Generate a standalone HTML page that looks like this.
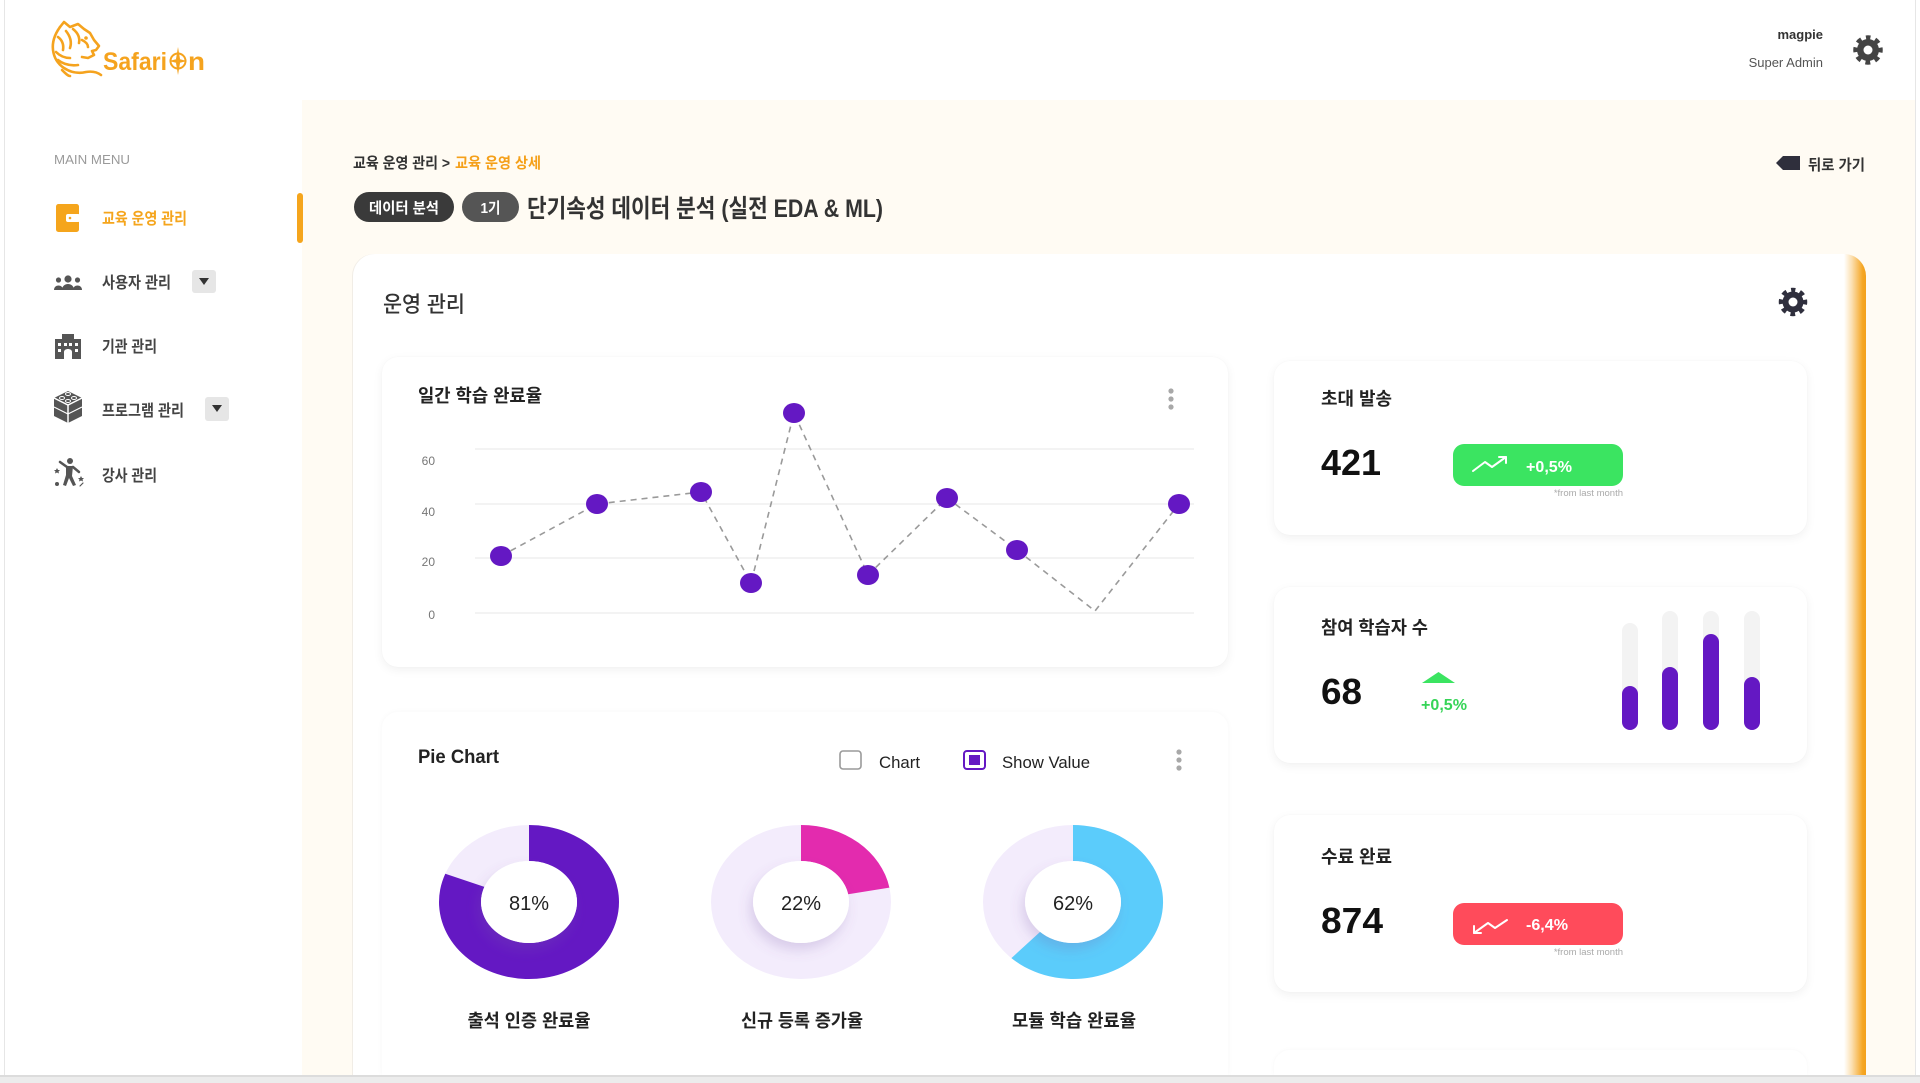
<!DOCTYPE html>
<html lang="ko">
<head>
<meta charset="utf-8">
<style>
  html,body{margin:0;padding:0;width:1920px;height:1083px;overflow:hidden;background:#ffffff;}
  #root{position:relative;width:1920px;height:1083px;overflow:hidden;background:#ffffff;
       font-family:"Liberation Sans","Noto Sans CJK KR",sans-serif;}
  .abs{position:absolute;}
  #bottomstrip{left:0;top:1075px;width:1920px;height:8px;background:#ececec;border-top:2px solid #dcdcdc;box-sizing:border-box;}
  #frameL{left:4px;top:0;width:1px;height:1075px;background:#e6e6e6;}
  #frameR{left:1915px;top:0;width:1px;height:1075px;background:#e6e6e6;}
  #content{left:302px;top:100px;width:1613px;height:975px;background:#FFFBF3;}
  #maincard{left:353px;top:254px;width:1513px;height:821px;background:#fff;border-radius:22px 22px 0 0;overflow:hidden;
            box-shadow:-1px 0 0 #f1ede6;}
  #orangeedge{right:0;top:0;width:22px;height:821px;
              background:linear-gradient(to right,rgba(245,166,35,0) 0%,rgba(245,166,35,0.35) 35%,#F5A623 85%,#F3A01C 100%);}
  .card{background:#fff;border-radius:16px;box-shadow:0 3px 10px rgba(0,0,0,0.06),0 0 1px rgba(0,0,0,0.05);}
  #overlay{left:0;top:0;}
</style>
</head>
<body>
<div id="root">
<div id="frameL" class="abs"></div>
<div id="frameR" class="abs"></div>
<div id="content" class="abs"></div>
<div id="maincard" class="abs"><div id="orangeedge" class="abs"></div></div>

<div class="abs card" style="left:382px;top:357px;width:846px;height:310px;"></div>
<div class="abs card" style="left:382px;top:712px;width:846px;height:363px;border-radius:16px 16px 0 0;box-shadow:0 0 6px rgba(0,0,0,0.035);"></div>
<div class="abs card" style="left:1274px;top:361px;width:533px;height:174px;"></div>
<div class="abs card" style="left:1274px;top:587px;width:533px;height:176px;"></div>
<div class="abs card" style="left:1274px;top:815px;width:533px;height:177px;"></div>
<div class="abs card" style="left:1274px;top:1050px;width:533px;height:25px;border-radius:16px 16px 0 0;box-shadow:0 0 5px rgba(0,0,0,0.035);"></div>
<div id="bottomstrip" class="abs"></div>

<svg id="overlay" class="abs" width="1920" height="1083" viewBox="0 0 1920 1083" xmlns="http://www.w3.org/2000/svg"
     font-family="Liberation Sans, Noto Sans CJK KR, sans-serif">
  <defs>
    <filter id="ds" x="-50%" y="-50%" width="200%" height="200%">
      <feDropShadow dx="-3" dy="7" stdDeviation="6" flood-color="#7a5aa8" flood-opacity="0.22"/>
    </filter>
  </defs>

  <!-- ===== Logo ===== -->
  <g fill="none" stroke="#F5A31E" stroke-width="2.6" stroke-linecap="round" stroke-linejoin="round">
    <path d="M60 27 L64 22 L70 27 L78 24 L84 29 L90 33 L94 40 L99 46 L96 50 L92 51 L94 55 L88 58 L82 57"/>
    <path d="M60 27 C55 34 52 42 53 50 C54 58 58 64 64 68 C70 72 78 74 86 72 C92 71 97 72 101 75"/>
    <path d="M58 37 C62 40 64 44 63 50"/>
    <path d="M66 31 C70 36 72 42 70 48"/>
    <path d="M73 29 C78 33 80 38 79 43"/>
    <path d="M56 52 C60 56 64 58 70 58"/>
    <path d="M58 60 C63 64 70 66 78 65"/>
    <path d="M82 40 C86 42 88 44 88 47"/>
    <path d="M62 70 C66 74 68 76 70 76"/>
  </g>
  <g fill="#F5A31E">
    <circle cx="86" cy="38" r="1.8"/>
  </g>
  <text x="103" y="70" font-size="25" font-weight="700" fill="#F5A31E" textLength="64" lengthAdjust="spacingAndGlyphs">Safari</text>
  <g stroke="#F5A31E" fill="none" stroke-width="2">
    <circle cx="178" cy="61" r="7.5"/>
  </g>
  <g fill="#F5A31E">
    <polygon points="178,47 180,59 178,61 176,59"/>
    <polygon points="178,75 180,63 178,61 176,63"/>
    <polygon points="169,61 177,59 178,61 177,63"/>
    <polygon points="187,61 179,59 178,61 179,63"/>
  </g>
  <text x="188" y="70" font-size="25" font-weight="700" fill="#F5A31E" textLength="17" lengthAdjust="spacingAndGlyphs">n</text>

  <!-- ===== Header right ===== -->
  <text x="1823" y="39" font-size="13" font-weight="700" fill="#333" text-anchor="end">magpie</text>
  <text x="1823" y="67" font-size="13" fill="#555" text-anchor="end">Super Admin</text>
  <g transform="translate(1868,50)">
    <circle r="12.5" fill="none" stroke="#444" stroke-width="4.5" stroke-dasharray="4.9 4.9" stroke-dashoffset="2.45" transform="rotate(-90)"/>
    <circle r="11" fill="#444"/>
    <circle r="4.5" fill="#fff"/>
  </g>

  <!-- ===== Sidebar ===== -->
  <text x="54" y="164" font-size="13" fill="#9a9a9a" textLength="76" lengthAdjust="spacingAndGlyphs">MAIN MENU</text>

  <!-- active item -->
  <rect x="56" y="204" width="23" height="28" rx="2.5" fill="#F5A51C"/>
  <rect x="66" y="214" width="14" height="8" rx="2" fill="#fff"/>
  <circle cx="70" cy="218" r="1.3" fill="#F5A51C"/>
  <text x="102" y="224" font-size="16" font-weight="700" fill="#F5A51C" textLength="85" lengthAdjust="spacingAndGlyphs">교육 운영 관리</text>
  <rect x="297" y="193" width="6" height="50" rx="3" fill="#F5A51C"/>

  <!-- users -->
  <g fill="#555">
    <circle cx="58.5" cy="280" r="2.6"/>
    <path d="M54 290 C54 284 63 284 63 290 Z"/>
    <circle cx="68" cy="279" r="3.6"/>
    <path d="M62 290 C62 282 74 282 74 290 Z"/>
    <circle cx="77.5" cy="280" r="2.6"/>
    <path d="M73 290 C73 284 82 284 82 290 Z"/>
  </g>
  <text x="102" y="288" font-size="16" font-weight="700" fill="#444" textLength="69" lengthAdjust="spacingAndGlyphs">사용자 관리</text>
  <rect x="192" y="270" width="24" height="23" rx="3" fill="#e6e6e6"/>
  <polygon points="199,278 209,278 204,285" fill="#333"/>

  <!-- building -->
  <g fill="#555">
    <rect x="55" y="339" width="26" height="20"/>
    <rect x="62" y="334" width="12" height="6"/>
  </g>
  <g fill="#fff">
    <rect x="58" y="343" width="3" height="3"/><rect x="64" y="343" width="3" height="3"/>
    <rect x="69" y="343" width="3" height="3"/><rect x="75" y="343" width="3" height="3"/>
    <rect x="58" y="349" width="3" height="3"/><rect x="75" y="349" width="3" height="3"/>
    <path d="M64 359 L64 352 C64 348 72 348 72 352 L72 359 Z"/>
  </g>
  <text x="102" y="352" font-size="16" font-weight="700" fill="#444" textLength="55" lengthAdjust="spacingAndGlyphs">기관 관리</text>

  <!-- lego box -->
  <g>
    <polygon points="68,391 82,398 82,416 68,423 54,416 54,398" fill="#555"/>
    <polyline points="54,398 68,405 82,398" fill="none" stroke="#fff" stroke-width="1.5"/>
    <line x1="68" y1="405" x2="68" y2="423" stroke="#fff" stroke-width="1.5"/>
    <polyline points="54,407 68,414 82,407" fill="none" stroke="#fff" stroke-width="1.2"/>
    <g fill="none" stroke="#fff" stroke-width="1">
      <ellipse cx="68" cy="394" rx="2.5" ry="1.5"/><ellipse cx="62" cy="398" rx="2.5" ry="1.5"/>
      <ellipse cx="74" cy="398" rx="2.5" ry="1.5"/><ellipse cx="68" cy="401" rx="2.5" ry="1.5"/>
    </g>
  </g>
  <text x="102" y="416" font-size="16" font-weight="700" fill="#444" textLength="82" lengthAdjust="spacingAndGlyphs">프로그램 관리</text>
  <rect x="205" y="397" width="24" height="24" rx="3" fill="#e6e6e6"/>
  <polygon points="212,405 222,405 217,412" fill="#333"/>

  <!-- dancer -->
  <g fill="#555" stroke="#555" stroke-linecap="round">
    <circle cx="70" cy="461" r="3" stroke="none"/>
    <path d="M66 466 L73 466 L72 476 L76 485 L73 486 L69 478 L66 486 L63 485 L66 475 Z" stroke="none"/>
    <line x1="67" y1="467" x2="60" y2="462" stroke-width="2.5"/>
    <line x1="73" y1="467" x2="79" y2="472" stroke-width="2.5"/>
    <path d="M57 468 l1 2 l2 0 l-1.5 1.5 l0.5 2 l-2 -1 l-2 1 l0.5 -2 l-1.5 -1.5 l2 0 z" stroke="none"/>
    <path d="M81 476 l1 2 l2 0 l-1.5 1.5 l0.5 2 l-2 -1 l-2 1 l0.5 -2 l-1.5 -1.5 l2 0 z" stroke="none"/>
    <circle cx="57" cy="484" r="2" stroke="none"/>
    <line x1="80" y1="486" x2="83" y2="483" stroke-width="1.2"/>
  </g>
  <text x="102" y="481" font-size="16" font-weight="700" fill="#444" textLength="55" lengthAdjust="spacingAndGlyphs">강사 관리</text>

  <!-- ===== Breadcrumb & title ===== -->
  <text x="353" y="168" font-size="15" font-weight="700" fill="#333" textLength="97" lengthAdjust="spacingAndGlyphs">교육 운영 관리 &gt;</text>
  <text x="455" y="168" font-size="15" font-weight="700" fill="#F5A01A" textLength="86" lengthAdjust="spacingAndGlyphs">교육 운영 상세</text>

  <polygon points="1776,163 1783,156 1800,156 1800,170 1783,170" fill="#2f2f3c"/>
  <text x="1808" y="170" font-size="15" font-weight="700" fill="#333" textLength="57" lengthAdjust="spacingAndGlyphs">뒤로 가기</text>

  <rect x="354" y="192" width="100" height="30" rx="15" fill="#3a3a3a"/>
  <text x="404" y="213" font-size="15" font-weight="700" fill="#fff" text-anchor="middle" textLength="70" lengthAdjust="spacingAndGlyphs">데이터 분석</text>
  <rect x="462" y="192" width="57" height="30" rx="15" fill="#555"/>
  <text x="490.5" y="213" font-size="15" font-weight="700" fill="#fff" text-anchor="middle" textLength="20" lengthAdjust="spacingAndGlyphs">1기</text>
  <text x="527" y="217" font-size="25" font-weight="700" fill="#333" textLength="356" lengthAdjust="spacingAndGlyphs">단기속성 데이터 분석 (실전 EDA &amp; ML)</text>

  <!-- ===== Main card header ===== -->
  <text x="383" y="312" font-size="22" font-weight="500" fill="#333" textLength="82" lengthAdjust="spacingAndGlyphs">운영 관리</text>
  <g transform="translate(1793,302)">
    <circle r="12" fill="none" stroke="#2f2f3d" stroke-width="4.5" stroke-dasharray="4.71 4.71" stroke-dashoffset="2.35" transform="rotate(-90)"/>
    <circle r="10.5" fill="#2f2f3d"/>
    <circle r="4.5" fill="#fff"/>
  </g>

  <!-- ===== Line chart ===== -->
  <text x="418" y="402" font-size="18" font-weight="700" fill="#222" textLength="124" lengthAdjust="spacingAndGlyphs">일간 학습 완료율</text>
  <g fill="#a8a8a8">
    <circle cx="1171" cy="391" r="2.6"/><circle cx="1171" cy="399" r="2.6"/><circle cx="1171" cy="407" r="2.6"/>
  </g>
  <g stroke="#efefef" stroke-width="1.5">
    <line x1="475" y1="449" x2="1194" y2="449"/>
    <line x1="475" y1="504" x2="1194" y2="504"/>
    <line x1="475" y1="558" x2="1194" y2="558"/>
    <line x1="475" y1="613" x2="1194" y2="613"/>
  </g>
  <g font-size="12" fill="#777" text-anchor="end">
    <text x="435" y="465">60</text>
    <text x="435" y="516">40</text>
    <text x="435" y="566">20</text>
    <text x="435" y="619">0</text>
  </g>
  <polyline points="501,556 597,504 701,492 751,583 794,413 868,575 947,498 1017,550 1095,611 1179,504"
            fill="none" stroke="#9a9a9a" stroke-width="1.6" stroke-dasharray="6 5"/>
  <g fill="#6418C3">
    <ellipse cx="501" cy="556" rx="11" ry="10"/>
    <ellipse cx="597" cy="504" rx="11" ry="10"/>
    <ellipse cx="701" cy="492" rx="11" ry="10"/>
    <ellipse cx="751" cy="583" rx="11" ry="10"/>
    <ellipse cx="794" cy="413" rx="11" ry="10"/>
    <ellipse cx="868" cy="575" rx="11" ry="10"/>
    <ellipse cx="947" cy="498" rx="11" ry="10"/>
    <ellipse cx="1017" cy="550" rx="11" ry="10"/>
    <ellipse cx="1179" cy="504" rx="11" ry="10"/>
  </g>

  <!-- ===== Pie chart card ===== -->
  <text x="418" y="763" font-size="19" font-weight="700" fill="#222" textLength="81" lengthAdjust="spacingAndGlyphs">Pie Chart</text>
  <rect x="840" y="751" width="21" height="18" rx="3" fill="#fff" stroke="#9a9a9a" stroke-width="1.6"/>
  <text x="879" y="768" font-size="17" fill="#222" textLength="41" lengthAdjust="spacingAndGlyphs">Chart</text>
  <rect x="964" y="751" width="21" height="18" rx="3" fill="#fff" stroke="#6418C3" stroke-width="2"/>
  <rect x="969" y="755" width="11" height="10" fill="#6418C3"/>
  <text x="1002" y="768" font-size="17" fill="#222" textLength="88" lengthAdjust="spacingAndGlyphs">Show Value</text>
  <g fill="#a8a8a8">
    <circle cx="1179" cy="752" r="2.6"/><circle cx="1179" cy="760" r="2.6"/><circle cx="1179" cy="768" r="2.6"/>
  </g>

  <!-- donut 1 -->
  <path d="M439 902 A90 77 0 1 0 619 902 A90 77 0 1 0 439 902 Z M481 902 A48 41 0 1 1 577 902 A48 41 0 1 1 481 902 Z" fill="#F3ECFC" fill-rule="evenodd"/>
  <path d="M529 825 A90 77 0 1 1 445.3 873.7 L484.4 886.9 A48 41 0 1 0 529 861 Z" fill="#6418C3"/>
  <ellipse cx="529" cy="902" rx="48" ry="41" fill="#fff" filter="url(#ds)"/>
  <text x="529" y="910" font-size="20" fill="#222" text-anchor="middle">81%</text>
  <text x="529" y="1027" font-size="18" font-weight="700" fill="#222" text-anchor="middle" textLength="123" lengthAdjust="spacingAndGlyphs">출석 인증 완료율</text>

  <!-- donut 2 -->
  <path d="M711 902 A90 77 0 1 0 891 902 A90 77 0 1 0 711 902 Z M753 902 A48 41 0 1 1 849 902 A48 41 0 1 1 753 902 Z" fill="#F3ECFC" fill-rule="evenodd"/>
  <path d="M801 825 A90 77 0 0 1 889.4 887.6 L848.2 894.3 A48 41 0 0 0 801 861 Z" fill="#E32BAE"/>
  <ellipse cx="801" cy="902" rx="48" ry="41" fill="#fff" filter="url(#ds)"/>
  <text x="801" y="910" font-size="20" fill="#222" text-anchor="middle">22%</text>
  <text x="802" y="1027" font-size="18" font-weight="700" fill="#222" text-anchor="middle" textLength="122" lengthAdjust="spacingAndGlyphs">신규 등록 증가율</text>

  <!-- donut 3 -->
  <path d="M983 902 A90 77 0 1 0 1163 902 A90 77 0 1 0 983 902 Z M1025 902 A48 41 0 1 1 1121 902 A48 41 0 1 1 1025 902 Z" fill="#F3ECFC" fill-rule="evenodd"/>
  <path d="M1073 825 A90 77 0 1 1 1011.4 958.1 L1040.1 931.9 A48 41 0 1 0 1073 861 Z" fill="#5BCCFB"/>
  <ellipse cx="1073" cy="902" rx="48" ry="41" fill="#fff" filter="url(#ds)"/>
  <text x="1073" y="910" font-size="20" fill="#222" text-anchor="middle">62%</text>
  <text x="1074" y="1027" font-size="18" font-weight="700" fill="#222" text-anchor="middle" textLength="124" lengthAdjust="spacingAndGlyphs">모듈 학습 완료율</text>

  <!-- ===== Stat card 1 ===== -->
  <text x="1321" y="405" font-size="18" font-weight="700" fill="#222" textLength="71" lengthAdjust="spacingAndGlyphs">초대 발송</text>
  <text x="1321" y="475" font-size="36" font-weight="700" fill="#111" textLength="60" lengthAdjust="spacingAndGlyphs">421</text>
  <rect x="1453" y="444" width="170" height="42" rx="11" fill="#3BE461"/>
  <g fill="none" stroke="#fff" stroke-width="2" stroke-linecap="round" stroke-linejoin="round">
    <polyline points="1473,471 1485,462 1492,467 1506,457"/>
    <polyline points="1499,457 1506,457 1506,463"/>
  </g>
  <text x="1526" y="472" font-size="16" font-weight="700" fill="#fff" textLength="46" lengthAdjust="spacingAndGlyphs">+0,5%</text>
  <text x="1623" y="496" font-size="9.5" fill="#aaa" text-anchor="end">*from last month</text>

  <!-- ===== Stat card 2 ===== -->
  <text x="1321" y="634" font-size="18" font-weight="700" fill="#222" textLength="107" lengthAdjust="spacingAndGlyphs">참여 학습자 수</text>
  <text x="1321" y="704" font-size="36" font-weight="700" fill="#111" textLength="41" lengthAdjust="spacingAndGlyphs">68</text>
  <polygon points="1422,683 1438.5,672 1455,683" fill="#3BE461"/>
  <text x="1421" y="710" font-size="16" font-weight="700" fill="#36D457" textLength="46" lengthAdjust="spacingAndGlyphs">+0,5%</text>
  <g fill="#F3F3F3">
    <rect x="1622" y="623" width="16" height="107" rx="8"/>
    <rect x="1662" y="611" width="16" height="119" rx="8"/>
    <rect x="1703" y="611" width="16" height="119" rx="8"/>
    <rect x="1744" y="611" width="16" height="119" rx="8"/>
  </g>
  <g fill="#6418C3">
    <rect x="1622" y="686" width="16" height="44" rx="8"/>
    <rect x="1662" y="667" width="16" height="63" rx="8"/>
    <rect x="1703" y="634" width="16" height="96" rx="8"/>
    <rect x="1744" y="677" width="16" height="53" rx="8"/>
  </g>

  <!-- ===== Stat card 3 ===== -->
  <text x="1321" y="863" font-size="18" font-weight="700" fill="#222" textLength="71" lengthAdjust="spacingAndGlyphs">수료 완료</text>
  <text x="1321" y="933" font-size="36" font-weight="700" fill="#111" textLength="62" lengthAdjust="spacingAndGlyphs">874</text>
  <rect x="1453" y="903" width="170" height="42" rx="11" fill="#FF4B5B"/>
  <g fill="none" stroke="#fff" stroke-width="2" stroke-linecap="round" stroke-linejoin="round">
    <polyline points="1507,920 1495,928 1488,923 1474,933"/>
    <polyline points="1474,926 1474,933 1481,933"/>
  </g>
  <text x="1526" y="930" font-size="16" font-weight="700" fill="#fff" textLength="42" lengthAdjust="spacingAndGlyphs">-6,4%</text>
  <text x="1623" y="955" font-size="9.5" fill="#aaa" text-anchor="end">*from last month</text>
</svg>
</div>
</body>
</html>
